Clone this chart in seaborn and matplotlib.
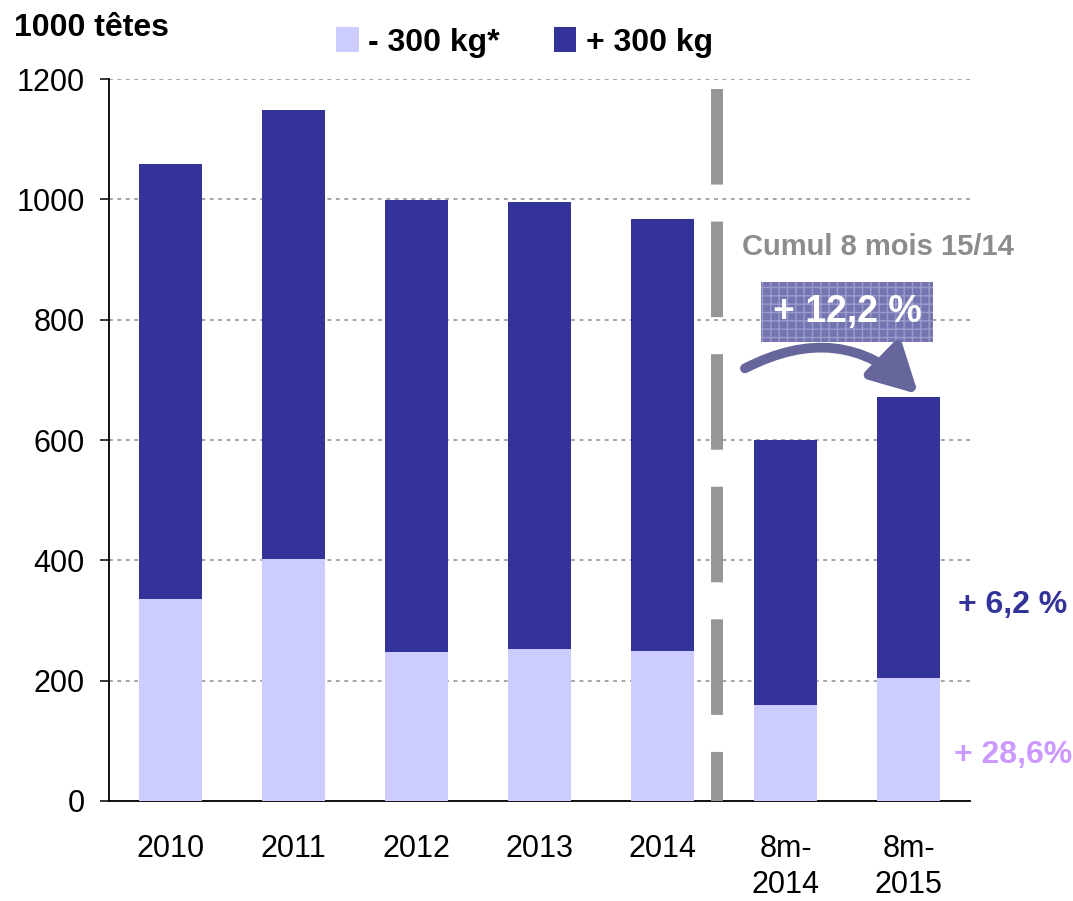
import matplotlib
matplotlib.use("Agg")
import matplotlib.pyplot as plt
import seaborn as sns
import pandas as pd
from matplotlib.patches import FancyArrowPatch

# Données (1000 têtes)
categories = ["2010", "2011", "2012", "2013", "2014", "8m-\n2014", "8m-\n2015"]
moins_300 = [336, 402, 248, 253, 249, 160, 205]
total = [1058, 1148, 999, 996, 968, 600, 671]

light = "#CCCCFF"
dark = "#333399"

sns.set_style("white")
plt.rcParams["font.family"] = ["Liberation Sans", "DejaVu Sans"]
plt.rcParams["text.color"] = "black"

df = pd.DataFrame({"cat": categories, "total": total, "light": moins_300})

fig = plt.figure(figsize=(10.73, 9.01), dpi=100)
ax = fig.add_axes([0.1016, 0.111, 0.8024, 0.8013])

sns.barplot(data=df, x="cat", y="total", color=dark, width=0.52,
            saturation=1, ax=ax, label="+ 300 kg", zorder=3, linewidth=0)
sns.barplot(data=df, x="cat", y="light", color=light, width=0.52,
            saturation=1, ax=ax, label="- 300 kg*", zorder=3, linewidth=0)
h, l = ax.get_legend_handles_labels()
if ax.get_legend() is not None:
    ax.get_legend().remove()

ax.set_ylim(0, 1200)
ax.set_xlim(-0.5, 6.5)
ax.set_yticks(range(0, 1201, 200))
ax.grid(axis="y", color="#8c8c8c", linestyle=(0, (2.5, 3)), lw=1.1, zorder=0)
ax.set_xlabel("")
ax.set_ylabel("")
for s in ["top", "right"]:
    ax.spines[s].set_visible(False)
for s in ["left", "bottom"]:
    ax.spines[s].set_color("black")
    ax.spines[s].set_linewidth(1.3)

# ticks: marks between categories, labels at centers
ax.set_xticks([i - 0.5 for i in range(8)])
ax.set_xticklabels([])
ax.set_xticks(range(len(categories)), minor=True)
ax.set_xticklabels(categories, minor=True, fontsize=22, linespacing=1.25)
ax.tick_params(axis="x", which="major", length=7, width=1.1, direction="out", color="black")
ax.tick_params(axis="x", which="minor", length=0, pad=24, labelcolor="black")
ax.tick_params(axis="y", length=6.5, width=1.1, direction="out", left=True,
               labelsize=22, pad=11, color="black", labelcolor="black")

# vertical dashed separator
ax.plot([4.447, 4.447], [1184, 0], color="#969696", lw=8.6,
        dashes=[8, 3.1], solid_capstyle="butt", zorder=4, clip_on=False)

# legend
fig.legend(h[::-1], l[::-1], loc="center", bbox_to_anchor=(0.489, 0.953), ncol=2,
           frameon=False, prop={"weight": "bold", "size": 23}, handlelength=0.7,
           handleheight=0.8, handletextpad=0.3, columnspacing=1.7)

fig.text(0.013, 0.969, "1000 têtes", fontsize=23, fontweight="bold", va="center", ha="left")

# annotations
ax.text(4.65, 920, "Cumul 8 mois 15/14", color="#8c8c8c", fontsize=21,
        fontweight="bold", ha="left", va="center")
ax.text(5.5, 812, "+ 12,2 %", color="white", fontsize=27, fontweight="bold",
        ha="center", va="center", zorder=6,
        bbox=dict(boxstyle="square,pad=0.32", fc="#7474B0", ec="#9C9CCC",
                  hatch="++", lw=0))
arrow = FancyArrowPatch((4.67, 719), (6.08, 676), connectionstyle="arc3,rad=-0.36",
                        arrowstyle="-|>,head_length=28,head_width=15",
                        color="#66669C", lw=7, zorder=7, mutation_scale=1,
                        shrinkA=0, shrinkB=0)
ax.add_patch(arrow)
ax.text(6.85, 325, "+ 6,2 %", color=dark, fontsize=23, fontweight="bold",
        ha="center", va="center", clip_on=False)
ax.text(6.85, 76, "+ 28,6%", color="#CC99FF", fontsize=23, fontweight="bold",
        ha="center", va="center", clip_on=False)

fig.savefig("out.png", dpi=100)
